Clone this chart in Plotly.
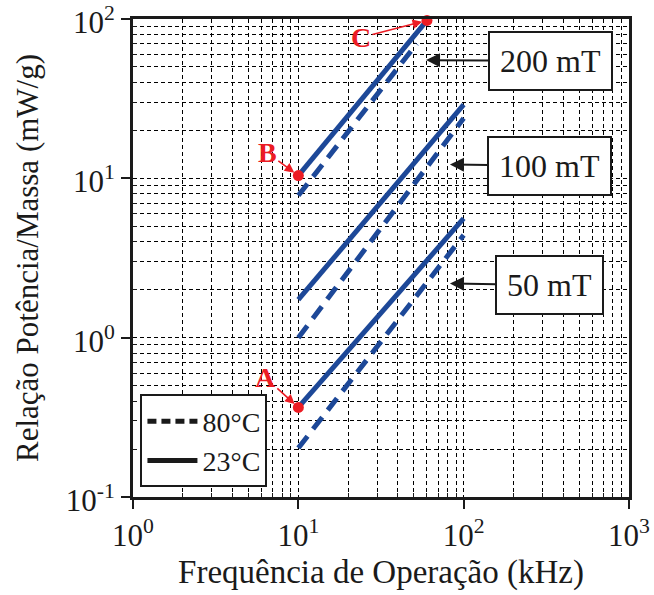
import math
import plotly.graph_objects as go

# ---- data ----
flux_labels = ["50 mT", "100 mT", "200 mT"]
# 23 °C (solid)
f23_x = [[10, 100], [10, 100], [10, 60]]
p23_y = [[0.365, 5.6], [1.73, 29.0], [10.4, 98.0]]
# 80 °C (dashed)
f80_x = [[10, 100], [10, 100], [10, 52]]
p80_y = [[0.203, 4.4], [1.0, 23.8], [7.8, 70.0]]
# marked points
pt_labels = ["A", "B", "C"]
pt_x = [10, 10, 60]
pt_y = [0.365, 10.4, 98.0]
# arrow tips of the flux-density labels
lab_x = [82.6, 82.6, 59.2]
lab_y = [2.19, 12.2, 55.2]
legend_names = ["80°C", "23°C"]

x_major = [1, 10, 100, 1000]
x_major_txt = ["10<sup>0</sup>", "10<sup>1</sup>", "10<sup>2</sup>", "10<sup>3</sup>"]
y_major = [0.1, 1, 10, 100]
y_major_txt = ["10<sup>-1</sup>", "10<sup>0</sup>", "10<sup>1</sup>", "10<sup>2</sup>"]
minor_vals = [m * 10 ** e for e in range(-1, 3) for m in range(2, 10)]

BLUE = "#1d4898"
RED = "#ec1c24"
FONT = "Liberation Serif, DejaVu Serif, serif"
INK = "#1a1a1a"

fig = go.Figure()

for xs, ys in zip(f23_x, p23_y):
    fig.add_trace(go.Scatter(x=xs, y=ys, mode="lines", showlegend=False,
                             line=dict(color=BLUE, width=5)))
for xs, ys in zip(f80_x, p80_y):
    fig.add_trace(go.Scatter(x=xs, y=ys, mode="lines", showlegend=False,
                             line=dict(color=BLUE, width=5, dash="15px,9px")))

fig.add_trace(go.Scatter(x=pt_x, y=pt_y, mode="markers", showlegend=False,
                         marker=dict(color=RED, size=11), cliponaxis=False))

# legend entries
fig.add_trace(go.Scatter(x=[None], y=[None], mode="lines", name=legend_names[0],
                         line=dict(color=INK, width=5, dash="9px,5px")))
fig.add_trace(go.Scatter(x=[None], y=[None], mode="lines", name=legend_names[1],
                         line=dict(color=INK, width=5)))

annotations = []
offsets = [(100, 2), (100, 1), (124, 1)]
for lbl, x, y, (ax, ay) in zip(flux_labels, lab_x, lab_y, offsets):
    annotations.append(dict(
        x=math.log10(x), y=math.log10(y), xref="x", yref="y", text=lbl, showarrow=True,
        ax=ax, ay=ay, arrowhead=2, arrowsize=1.4, arrowwidth=2, arrowcolor=INK,
        bordercolor=INK, borderwidth=2, borderpad=10, bgcolor="white",
        font=dict(family=FONT, size=32, color=INK)))

pt_offsets = [(-33, -30), (-31, -23), (-66, 17)]
for lbl, x, y, (ax, ay) in zip(pt_labels, pt_x, pt_y, pt_offsets):
    annotations.append(dict(
        x=math.log10(x), y=math.log10(y), xref="x", yref="y", text="<b>" + lbl + "</b>",
        showarrow=True, ax=ax, ay=ay, arrowhead=2, arrowsize=1.2, arrowwidth=1.6,
        arrowcolor=RED, standoff=5, font=dict(family=FONT, size=28, color=RED)))

grid = dict(gridcolor="black", griddash="4px,3px", gridwidth=0.8)

common = dict(type="log", showline=True, linecolor=INK, linewidth=3, mirror=True,
              ticks="outside", ticklen=9, tickwidth=2, tickcolor=INK,
              showgrid=True, zeroline=False, tickmode="array", automargin=False,
              ticklabeloverflow="allow",
              tickfont=dict(family=FONT, size=31, color=INK),
              minor=dict(tickmode="array", tickvals=minor_vals, ticks="inside",
                         ticklen=4, tickwidth=1, tickcolor=INK, showgrid=True, **grid),
              **grid)

fig.update_layout(
    width=654, height=595,
    margin=dict(l=133, r=25, t=19, b=98),
    plot_bgcolor="white", paper_bgcolor="white",
    font=dict(family=FONT, color=INK),
    xaxis=dict(range=[0, 3], tickvals=x_major, ticktext=x_major_txt,
               title=dict(text="Frequência de Operação (kHz)",
                          font=dict(family=FONT, size=33, color=INK), standoff=8),
               **common),
    yaxis=dict(range=[-1, 2], tickvals=y_major, ticktext=y_major_txt,
               ticklabelshift=3,
               title=dict(text="Relação Potência/Massa (mW/g)",
                          font=dict(family=FONT, size=31, color=INK), standoff=18),
               **common),
    legend=dict(x=0.015, y=0.02, xanchor="left", yanchor="bottom",
                bgcolor="white", bordercolor=INK, borderwidth=2,
                font=dict(family=FONT, size=28, color=INK),
                itemwidth=50, tracegroupgap=0),
    annotations=annotations,
)

fig.write_html("out.html")
